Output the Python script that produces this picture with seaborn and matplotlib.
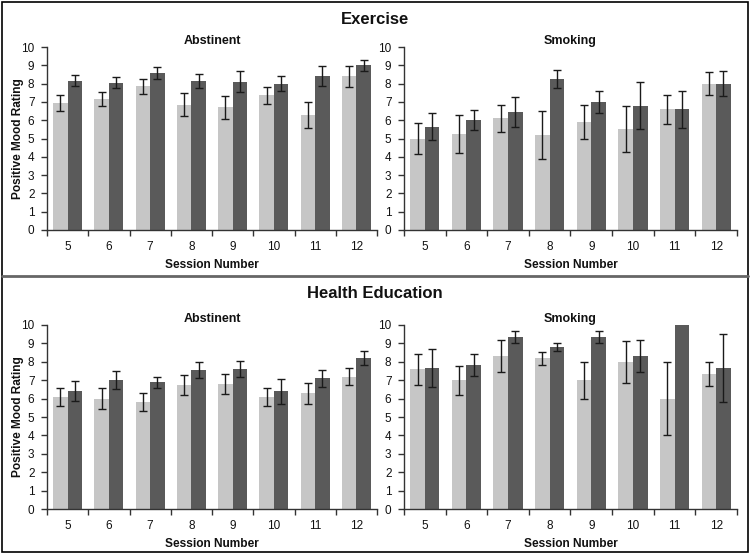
import numpy as np
import pandas as pd
import matplotlib.pyplot as plt
import seaborn as sns
from matplotlib.lines import Line2D
from matplotlib.patches import Rectangle

# Sessões e valores (média e erro padrão)
sessoes = [5, 6, 7, 8, 9, 10, 11, 12]
grupos = ['Pre', 'Post']

ex_abst_claro = [6.95, 7.15, 7.85, 6.85, 6.7, 7.35, 6.3, 8.4]
ex_abst_claro_err = [0.45, 0.38, 0.42, 0.62, 0.62, 0.48, 0.72, 0.57]
ex_abst_escuro = [8.15, 8.05, 8.6, 8.15, 8.1, 8.0, 8.4, 9.0]
ex_abst_escuro_err = [0.3, 0.3, 0.33, 0.4, 0.57, 0.4, 0.55, 0.3]

ex_fum_claro = [5.0, 5.25, 6.1, 5.2, 5.9, 5.5, 6.6, 8.0]
ex_fum_claro_err = [0.87, 1.05, 0.75, 1.3, 0.95, 1.25, 0.8, 0.65]
ex_fum_escuro = [5.65, 6.0, 6.45, 8.25, 7.0, 6.8, 6.6, 8.0]
ex_fum_escuro_err = [0.75, 0.55, 0.83, 0.47, 0.6, 1.27, 1.0, 0.7]

he_abst_claro = [6.1, 6.0, 5.8, 6.75, 6.8, 6.1, 6.3, 7.2]
he_abst_claro_err = [0.48, 0.58, 0.48, 0.55, 0.55, 0.48, 0.57, 0.48]
he_abst_escuro = [6.4, 7.0, 6.9, 7.55, 7.6, 6.4, 7.1, 8.2]
he_abst_escuro_err = [0.55, 0.5, 0.3, 0.45, 0.45, 0.68, 0.48, 0.38]

he_fum_claro = [7.6, 7.0, 8.33, 8.2, 7.0, 8.0, 6.0, 7.33]
he_fum_claro_err = [0.85, 0.78, 0.87, 0.35, 1.0, 1.15, 2.0, 0.67]
he_fum_escuro = [7.67, 7.85, 9.33, 8.8, 9.33, 8.33, 10.0, 7.67]
he_fum_escuro_err = [1.05, 0.6, 0.33, 0.2, 0.33, 0.87, 0.0, 1.85]

paineis = [
    ('Abstinent', ex_abst_claro, ex_abst_claro_err, ex_abst_escuro, ex_abst_escuro_err),
    ('Smoking', ex_fum_claro, ex_fum_claro_err, ex_fum_escuro, ex_fum_escuro_err),
    ('Abstinent', he_abst_claro, he_abst_claro_err, he_abst_escuro, he_abst_escuro_err),
    ('Smoking', he_fum_claro, he_fum_claro_err, he_fum_escuro, he_fum_escuro_err),
]

sns.set_theme(style='ticks')
plt.rcParams['font.family'] = ['Liberation Sans', 'DejaVu Sans']

fig = plt.figure(figsize=(7.5, 5.54), dpi=100)
W, H = 750, 554

# posição dos eixos em pixels: (esquerda, direita, topo, base)
caixas = [(47, 377, 47, 230), (404, 737, 47, 230),
          (47, 377, 325, 509), (404, 737, 325, 509)]

cores = {'Pre': '#c6c6c6', 'Post': '#5a5a5a'}

for i, (titulo, claro, claro_err, escuro, escuro_err) in enumerate(paineis):
    x0, x1, y0, y1 = caixas[i]
    ax = fig.add_axes([x0 / W, 1 - y1 / H, (x1 - x0) / W, (y1 - y0) / H])

    df = pd.DataFrame({
        'Sessao': sessoes * 2,
        'Grupo': ['Pre'] * 8 + ['Post'] * 8,
        'Media': claro + escuro,
    })
    sns.barplot(data=df, x='Sessao', y='Media', hue='Grupo', order=sessoes,
                hue_order=grupos, palette=cores, width=0.7, saturation=1,
                errorbar=None, legend=False, linewidth=0, ax=ax)

    for cont, erros in zip(ax.containers, [claro_err, escuro_err]):
        xs, ys, es = [], [], []
        for barra, e in zip(cont, erros):
            if e > 0:
                xs.append(barra.get_x() + barra.get_width() / 2)
                ys.append(barra.get_height())
                es.append(e)
        ax.errorbar(xs, ys, yerr=es, fmt='none', ecolor='#1a1a1a',
                    elinewidth=1, capsize=2.6, capthick=1)

    ax.set_ylim(0, 10)
    ax.set_yticks(range(0, 11))
    ax.set_xlim(-0.5, 7.5)
    ax.set_xticks(np.arange(-0.5, 8, 1))
    ax.set_xticklabels([])
    ax.set_xticks(np.arange(8), labels=[str(s) for s in sessoes], minor=True)
    ax.tick_params(axis='x', which='major', length=4, width=1, color='#333333')
    ax.tick_params(axis='x', which='minor', length=0, pad=8, labelsize=8.5,
                   labelcolor='#111111')
    ax.tick_params(axis='y', length=4, width=1, pad=5, labelsize=8.5,
                   color='#333333', labelcolor='#111111')
    sns.despine(ax=ax)
    for s in ['left', 'bottom']:
        ax.spines[s].set_color('#333333')
        ax.spines[s].set_linewidth(1)

    ax.set_title(titulo, fontsize=9, fontweight='bold', pad=0, color='#111111')
    ax.set_xlabel('Session Number', fontsize=8.6, fontweight='bold',
                  labelpad=4, color='#111111')
    if i % 2 == 0:
        ax.set_ylabel('Positive Mood Rating', fontsize=8.6, fontweight='bold',
                      color='#111111')
        ax.yaxis.set_label_coords((18 - x0) / (x1 - x0), 0.5)
        ax.yaxis.label.set_verticalalignment('center')
    else:
        ax.set_ylabel('')

fig.text(0.5, 1 - 20 / H, 'Exercise', ha='center', va='center',
         fontsize=12, fontweight='bold', color='#111111')
fig.text(0.5, 1 - 293 / H, 'Health Education', ha='center', va='center',
         fontsize=12, fontweight='bold', color='#111111')

# moldura e linha divisória
fig.add_artist(Rectangle((2 / W, 2 / H), 1 - 4 / W, 1 - 4 / H,
                         transform=fig.transFigure, fill=False,
                         lw=1.2, ec='black'))
fig.add_artist(Line2D([2 / W, 1 - 2 / W], [1 - 276 / H] * 2,
                      transform=fig.transFigure, color='#666666', lw=2))

fig.savefig('out.png', dpi=100)
